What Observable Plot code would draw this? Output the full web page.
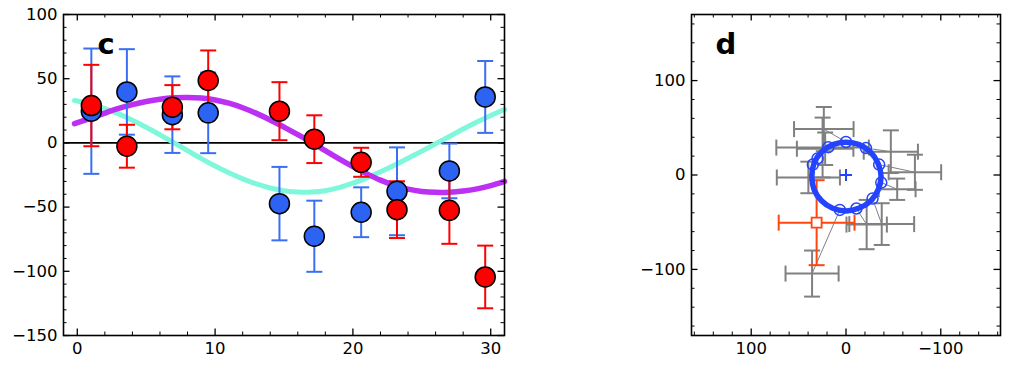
<!DOCTYPE html>
<html><head><meta charset="utf-8">
<script src="https://cdn.jsdelivr.net/npm/d3@7"></script>
<script src="https://cdn.jsdelivr.net/npm/@observablehq/plot@0.6"></script>
<style>
html,body{margin:0;padding:0;background:#fff;}
#wrap{position:relative;width:1024px;height:369px;overflow:hidden;background:#fff;}
#pc,#pd{position:absolute;top:0;}
#pc{left:0;} #pd{left:640px;}
</style></head><body>
<div id="wrap"><div id="pc"></div><div id="pd"></div></div>
<script>
// ---- observations (panel c), also plotted pairwise in panel d ----
const obsT    = [1.02, 3.6, 6.9, 9.5, 14.67, 17.2, 20.6, 23.2, 27.0, 29.6];
const blueVal = [24.7, 39.7, 22.0, 23.4, -47.3, -72.7, -54.0, -37.7, -21.8, 35.8];
const blueErr = [48.8, 33.3, 29.8, 31.4, 28.6, 27.7, 19.4, 34.2, 21.3, 28.0];
const redVal  = [29.1, -2.6, 27.8, 48.6, 24.7, 2.9, -15.1, -52.0, -52.5, -104.4];
const redErr  = [31.7, 16.7, 17.2, 23.4, 22.6, 18.6, 11.3, 22.1, 26.1, 24.4];

// ---- model curves (panel c) ----
const modelT      = [-0.2, 1, 2, 3, 4, 5, 6, 7, 8, 9, 10, 11, 12, 13, 14, 15, 16, 17, 18, 19, 20, 21, 22, 23, 24, 25, 26, 27, 28, 29, 30, 31];
const cyanModel   = [33.0, 30.2, 26.7, 22.6, 17.7, 12.2, 6.3, 0.2, -6.0, -12.2, -18.0, -23.3, -28.0, -32.0, -35.1, -37.2, -38.3, -38.3, -37.2, -34.8, -31.4, -27.2, -22.5, -17.4, -12.0, -6.4, -0.7, 5.0, 10.8, 16.3, 21.4, 26.0];
const purpleModel = [15.0, 19.3, 23.2, 26.8, 29.8, 32.2, 34.0, 35.1, 35.4, 34.9, 33.4, 30.9, 27.4, 23.0, 17.9, 12.3, 6.5, 0.5, -6.0, -12.5, -18.5, -24.0, -29.0, -33.0, -36.0, -37.8, -38.5, -38.4, -37.5, -35.8, -33.3, -30.0];

// ---- orbit ring (panel d) ----
const ringPathX = [36, 33.7, 25.8, 14, 0, -14, -25.8, -33.7, -37, -34, -26, -14, 0, 14, 25.8, 33.7];
const ringPathY = [-1.5, 12.5, 24.3, 32.2, 34.8, 32.2, 24.3, 12.5, -1.5, -15.5, -27.5, -35, -38, -35.3, -27.3, -15.5];
const ringPtX = [35, 30, 18.6, 0, -21, -35, -37.2, -28, -11, 6.5];
const ringPtY = [11, 17.5, 29.5, 35, 28.5, 11, -8, -25, -35.5, -37];
const refX = [31], refY = [-50.5], refXErr = [40], refYErr = [45];

// ---- tick labels ----
const cTicksX = [0, 10, 20, 30];
const cTicksY = [-150, -100, -50, 0, 50, 100];
const dTicks  = [100, 0, -100];

const BLUE = "#2d63f2", BLUE_E = "#3a6ff5", RED = "#ff0000";
const CYAN = "#7ff7da", PURPLE = "#bb30f2", GRAY = "#808080", ORANGE = "#ff4510", RING = "#2343ff";
const fmt = d => d < 0 ? "\u2212" + (-d) : String(d);

const capH = w => ({draw(ctx){ ctx.moveTo(-w, 0); ctx.lineTo(w, 0); }});
const capV = w => ({draw(ctx){ ctx.moveTo(0, -w); ctx.lineTo(0, w); }});
const plusSym = {draw(ctx){ ctx.moveTo(-6, 0); ctx.lineTo(6, 0); ctx.moveTo(0, -6); ctx.lineTo(0, 6); }};
const squareSym = {draw(ctx){ ctx.rect(-5, -5, 10, 10); }};

const obs = obsT.map((t, i) => ({t, b: blueVal[i], be: blueErr[i], r: redVal[i], re: redErr[i], rx: ringPtX[i], ry: ringPtY[i]}));
const model = modelT.map((t, i) => ({t, c: cyanModel[i], p: purpleModel[i]}));
const ring = ringPathX.map((x, i) => ({x, y: ringPathY[i]}));
const ref = refX.map((x, i) => ({x, y: refY[i], xe: refXErr[i], ye: refYErr[i]}));

function frameTicks(W, H, xMaj, xMin, yMaj, yMin) {
  const L = 6.5, l = 3.5, s = {stroke: "black"};
  return [
    Plot.tickX(xMaj, {x: d => d, insetTop: H - L, strokeWidth: 1.3, ...s}),
    Plot.tickX(xMaj, {x: d => d, insetBottom: H - L, strokeWidth: 1.3, ...s}),
    Plot.tickX(xMin, {x: d => d, insetTop: H - l, strokeWidth: 1, ...s}),
    Plot.tickX(xMin, {x: d => d, insetBottom: H - l, strokeWidth: 1, ...s}),
    Plot.tickY(yMaj, {y: d => d, insetRight: W - L, strokeWidth: 1.3, ...s}),
    Plot.tickY(yMaj, {y: d => d, insetLeft: W - L, strokeWidth: 1.3, ...s}),
    Plot.tickY(yMin, {y: d => d, insetRight: W - l, strokeWidth: 1, ...s}),
    Plot.tickY(yMin, {y: d => d, insetLeft: W - l, strokeWidth: 1, ...s})
  ];
}
const style = {fontFamily: "DejaVu Sans", fontSize: "16.5px", color: "black", background: "white"};

// ================= Panel c =================
{
  const width = 520, height = 369, mL = 63, mR = 16, mT = 14, mB = 34;
  const W = width - mL - mR, H = height - mT - mB;
  const plot = Plot.plot({
    width, height, marginLeft: mL, marginRight: mR, marginTop: mT, marginBottom: mB,
    style,
    x: {domain: [-1, 31], label: null},
    y: {domain: [-150, 100], label: null},
    marks: [
      Plot.ruleY([0], {stroke: "black", strokeWidth: 1.6}),
      Plot.line(model, {x: "t", y: "c", stroke: CYAN, strokeWidth: 5, curve: "catmull-rom"}),
      Plot.line(model, {x: "t", y: "p", stroke: PURPLE, strokeWidth: 5.5, curve: "catmull-rom"}),
      // blue error bars
      Plot.link(obs, {x1: "t", x2: "t", y1: d => d.b - d.be, y2: d => d.b + d.be, stroke: BLUE_E, strokeWidth: 2}),
      Plot.dot(obs, {x: "t", y: d => d.b - d.be, symbol: capH(8), fill: "none", stroke: BLUE_E, strokeWidth: 2}),
      Plot.dot(obs, {x: "t", y: d => d.b + d.be, symbol: capH(8), fill: "none", stroke: BLUE_E, strokeWidth: 2}),
      // red error bars
      Plot.link(obs, {x1: "t", x2: "t", y1: d => d.r - d.re, y2: d => d.r + d.re, stroke: RED, strokeWidth: 2}),
      Plot.dot(obs, {x: "t", y: d => d.r - d.re, symbol: capH(8), fill: "none", stroke: RED, strokeWidth: 2}),
      Plot.dot(obs, {x: "t", y: d => d.r + d.re, symbol: capH(8), fill: "none", stroke: RED, strokeWidth: 2}),
      Plot.dot(obs, {x: "t", y: "b", r: 10, fill: BLUE, stroke: "black", strokeWidth: 1.5}),
      Plot.dot(obs, {x: "t", y: "r", r: 10, fill: RED, stroke: "black", strokeWidth: 1.5}),
      Plot.frame({stroke: "black", strokeWidth: 1.6}),
      ...frameTicks(W, H, cTicksX, d3.range(2, 31, 2).filter(v => v % 10), cTicksY, d3.range(-140, 100, 10).filter(v => v % 50)),
      Plot.axisX(cTicksX, {tickSize: 0, tickPadding: 7, tickFormat: fmt, label: null}),
      Plot.axisY(cTicksY, {tickSize: 0, tickPadding: 6, tickFormat: fmt, label: null}),
      Plot.text(["c"], {frameAnchor: "top-left", text: d => d, dx: 34, dy: 39, lineAnchor: "bottom", textAnchor: "start", fontSize: 29, fontWeight: "bold"})
    ]
  });
  document.getElementById("pc").append(plot);
}

// ================= Panel d =================
{
  const width = 384, height = 369, mL = 51, mR = 24, mT = 14, mB = 34;
  const W = width - mL - mR, H = height - mT - mB;
  const dMin = d3.range(-160, 161, 20).filter(v => v % 100);
  const plot = Plot.plot({
    width, height, marginLeft: mL, marginRight: mR, marginTop: mT, marginBottom: mB,
    style,
    x: {domain: [163, -163], label: null},
    y: {domain: [-170, 170], label: null},
    marks: [
      // residual connectors
      Plot.link(obs, {x1: "b", y1: "r", x2: "rx", y2: "ry", stroke: GRAY, strokeWidth: 1}),
      // gray error crosses
      Plot.link(obs, {x1: d => d.b - d.be, x2: d => d.b + d.be, y1: "r", y2: "r", stroke: GRAY, strokeWidth: 2}),
      Plot.link(obs, {x1: "b", x2: "b", y1: d => d.r - d.re, y2: d => d.r + d.re, stroke: GRAY, strokeWidth: 2}),
      Plot.dot(obs, {x: d => d.b - d.be, y: "r", symbol: capV(8), fill: "none", stroke: GRAY, strokeWidth: 2}),
      Plot.dot(obs, {x: d => d.b + d.be, y: "r", symbol: capV(8), fill: "none", stroke: GRAY, strokeWidth: 2}),
      Plot.dot(obs, {x: "b", y: d => d.r - d.re, symbol: capH(8), fill: "none", stroke: GRAY, strokeWidth: 2}),
      Plot.dot(obs, {x: "b", y: d => d.r + d.re, symbol: capH(8), fill: "none", stroke: GRAY, strokeWidth: 2}),
      // reference point
      Plot.link(ref, {x1: d => d.x - d.xe, x2: d => d.x + d.xe, y1: "y", y2: "y", stroke: ORANGE, strokeWidth: 2}),
      Plot.link(ref, {x1: "x", x2: "x", y1: d => d.y - d.ye, y2: d => d.y + d.ye, stroke: ORANGE, strokeWidth: 2}),
      Plot.dot(ref, {x: d => d.x - d.xe, y: "y", symbol: capV(8), fill: "none", stroke: ORANGE, strokeWidth: 2}),
      Plot.dot(ref, {x: d => d.x + d.xe, y: "y", symbol: capV(8), fill: "none", stroke: ORANGE, strokeWidth: 2}),
      Plot.dot(ref, {x: "x", y: d => d.y - d.ye, symbol: capH(8), fill: "none", stroke: ORANGE, strokeWidth: 2}),
      Plot.dot(ref, {x: "x", y: d => d.y + d.ye, symbol: capH(8), fill: "none", stroke: ORANGE, strokeWidth: 2}),
      Plot.dot(ref, {x: "x", y: "y", symbol: squareSym, fill: "white", stroke: ORANGE, strokeWidth: 1.8}),
      // orbit ring
      Plot.line(ring, {x: "x", y: "y", curve: "catmull-rom-closed", stroke: RING, strokeWidth: 5.5}),
      Plot.dot(obs, {x: "rx", y: "ry", r: 5.5, fill: "none", stroke: RING, strokeWidth: 1.5}),
      Plot.dot([0], {x: d => d, y: d => d, symbol: plusSym, fill: "none", stroke: RING, strokeWidth: 2}),
      Plot.frame({stroke: "black", strokeWidth: 1.6}),
      ...frameTicks(W, H, dTicks, dMin, dTicks, dMin),
      Plot.axisX(dTicks, {tickSize: 0, tickPadding: 7, tickFormat: fmt, label: null}),
      Plot.axisY(dTicks, {tickSize: 0, tickPadding: 6, tickFormat: fmt, label: null}),
      Plot.text(["d"], {frameAnchor: "top-left", text: d => d, dx: 24, dy: 39, lineAnchor: "bottom", textAnchor: "start", fontSize: 29, fontWeight: "bold"})
    ]
  });
  document.getElementById("pd").append(plot);
}
</script>
</body></html>
